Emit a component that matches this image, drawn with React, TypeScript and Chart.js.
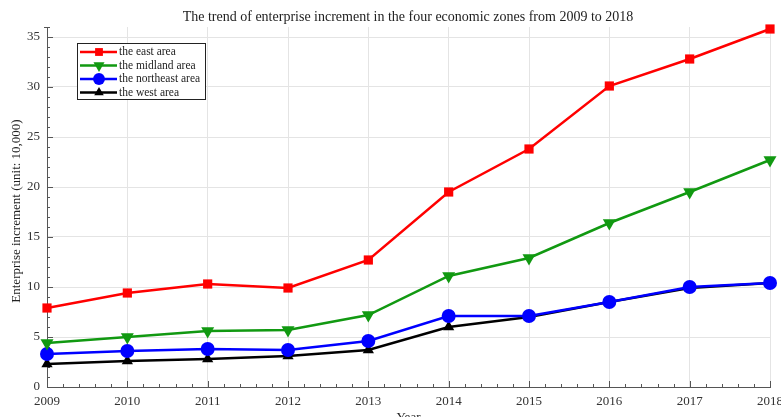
import React, { useEffect, useRef } from "react";
import { Chart, registerables } from "chart.js";

Chart.register(...registerables);

const years = ["2009", "2010", "2011", "2012", "2013", "2014", "2015", "2016", "2017", "2018"];
const eastArea = [7.9, 9.4, 10.3, 9.9, 12.7, 19.5, 23.8, 30.1, 32.8, 35.8];
const midlandArea = [4.4, 5.0, 5.6, 5.7, 7.2, 11.1, 12.9, 16.4, 19.5, 22.7];
const northeastArea = [3.3, 3.6, 3.8, 3.7, 4.6, 7.1, 7.1, 8.5, 10.0, 10.4];
const westArea = [2.3, 2.6, 2.8, 3.1, 3.7, 6.0, 7.0, 8.5, 9.9, 10.4];
const seriesNames = ["the east area", "the midland area", "the northeast area", "the west area"];
const titleText = "The trend of enterprise increment in the four economic zones from 2009 to 2018";
const yTitle = "Enterprise increment (unit: 10,000)";
const xTitle = "Year";

const FONT = "'Liberation Serif', 'DejaVu Serif', serif";
const colors = ["#ff0000", "#119911", "#0000ff", "#000000"];
const shapes = ["rect", "triangle", "circle", "triangle"];
const rotations = [0, 180, 0, 0];
const radii = [6.5, 7.5, 7, 6.5];

function drawShape(ctx: CanvasRenderingContext2D, shape: string, rot: number, x: number, y: number, r: number) {
  ctx.beginPath();
  if (shape === "rect") {
    const s = r * Math.SQRT1_2;
    ctx.rect(x - s, y - s, 2 * s, 2 * s);
  } else if (shape === "circle") {
    ctx.arc(x, y, r, 0, Math.PI * 2);
  } else {
    const dir = rot === 180 ? -1 : 1;
    ctx.moveTo(x, y - dir * r);
    ctx.lineTo(x + r * 0.866, y + dir * r * 0.5);
    ctx.lineTo(x - r * 0.866, y + dir * r * 0.5);
    ctx.closePath();
  }
  ctx.fill();
}

const decorPlugin = {
  id: "decor",
  beforeDatasetsDraw(chart: any) {
    const ctx = chart.ctx;
    const { left, top, bottom } = chart.chartArea;
    const ys = chart.scales.y;
    const xs = chart.scales.x;
    ctx.save();
    ctx.strokeStyle = "#555";
    ctx.lineWidth = 1;
    ctx.beginPath();
    for (let v = 0; v <= 36; v++) {
      const py = Math.round(ys.getPixelForValue(v)) + 0.5;
      const len = v % 5 === 0 ? 6 : 3;
      ctx.moveTo(left, py);
      ctx.lineTo(left + len, py);
    }
    for (let i = 0; i < years.length; i++) {
      const px0 = xs.getPixelForValue(i);
      ctx.moveTo(Math.round(px0) + 0.5, bottom);
      ctx.lineTo(Math.round(px0) + 0.5, bottom - 6);
      if (i < years.length - 1) {
        const px1 = xs.getPixelForValue(i + 1);
        for (let k = 1; k < 5; k++) {
          const px = Math.round(px0 + ((px1 - px0) * k) / 5) + 0.5;
          ctx.moveTo(px, bottom);
          ctx.lineTo(px, bottom - 3);
        }
      }
    }
    ctx.moveTo(left - 3, top + 0.5);
    ctx.lineTo(left + 3, top + 0.5);
    ctx.stroke();
    ctx.restore();
  },
  afterDraw(chart: any) {
    const ctx = chart.ctx;
    const { left, right, top, bottom } = chart.chartArea;
    ctx.save();
    ctx.fillStyle = "#222";
    ctx.font = `14px ${FONT}`;
    ctx.textAlign = "center";
    ctx.textBaseline = "middle";
    ctx.fillText(titleText, 408, 17);
    ctx.font = `13px ${FONT}`;
    ctx.fillText(xTitle, (left + right) / 2, 418);
    ctx.save();
    ctx.translate(17, (top + bottom) / 2 + 4);
    ctx.rotate(-Math.PI / 2);
    ctx.fillText(yTitle, 0, 0);
    ctx.restore();

    // legend box
    const bx = 77, by = 43, bw = 128, bh = 56;
    ctx.fillStyle = "#fff";
    ctx.fillRect(bx, by, bw, bh);
    ctx.strokeStyle = "#222";
    ctx.lineWidth = 1;
    ctx.strokeRect(bx + 0.5, by + 0.5, bw, bh);
    ctx.font = `11.5px ${FONT}`;
    ctx.textAlign = "left";
    for (let i = 0; i < seriesNames.length; i++) {
      const y = by + 9 + i * 13.5;
      ctx.strokeStyle = colors[i];
      ctx.fillStyle = colors[i];
      ctx.lineWidth = 2.5;
      ctx.beginPath();
      ctx.moveTo(bx + 3, y);
      ctx.lineTo(bx + 40, y);
      ctx.stroke();
      drawShape(ctx, shapes[i], rotations[i], bx + 22, y, radii[i] * 0.85);
      ctx.fillStyle = "#222";
      ctx.fillText(seriesNames[i], bx + 42, y);
    }
    ctx.restore();
  },
};

export default function App() {
  const ref = useRef<HTMLCanvasElement>(null);
  useEffect(() => {
    document.body.style.margin = "0";
    const seriesData = [eastArea, midlandArea, northeastArea, westArea];
    const chart = new Chart(ref.current as HTMLCanvasElement, {
      type: "line",
      data: {
        labels: years,
        datasets: seriesData.map((d, i) => ({
          label: seriesNames[i],
          data: d,
          borderColor: colors[i],
          backgroundColor: colors[i],
          borderWidth: 2.5,
          pointStyle: shapes[i] as any,
          pointRotation: rotations[i],
          pointRadius: radii[i],
          pointBorderWidth: 0,
          tension: 0,
          fill: false,
          clip: false as any,
        })),
      },
      options: {
        animation: false,
        responsive: false,
        layout: { padding: { top: 27, right: 11, left: 0, bottom: 0 } },
        plugins: { legend: { display: false }, title: { display: false }, tooltip: { enabled: false } },
        scales: {
          x: {
            type: "category",
            offset: false,
            grid: { color: "#e4e4e4", drawTicks: false, lineWidth: 1 },
            border: { color: "#555", width: 1 },
            ticks: { font: { family: FONT, size: 13 }, color: "#333", padding: 7, maxRotation: 0, autoSkip: false },
            afterFit(scale: any) {
              scale.height = 30;
              scale.paddingLeft = 0;
              scale.paddingRight = 0;
            },
          },
          y: {
            min: 0,
            max: 36,
            grid: { color: "#e4e4e4", drawTicks: false, lineWidth: 1 },
            border: { color: "#555", width: 1 },
            ticks: { stepSize: 5, includeBounds: false, font: { family: FONT, size: 13 }, color: "#333", padding: 7 },
            afterFit(scale: any) {
              scale.width = 47;
              scale.paddingTop = 0;
              scale.paddingBottom = 0;
            },
          },
        },
      },
      plugins: [decorPlugin],
    });
    return () => chart.destroy();
  }, []);
  return (
    <div style={{ width: 781, height: 417 }}>
      <canvas ref={ref} width={781} height={417} style={{ display: "block" }} />
    </div>
  );
}
